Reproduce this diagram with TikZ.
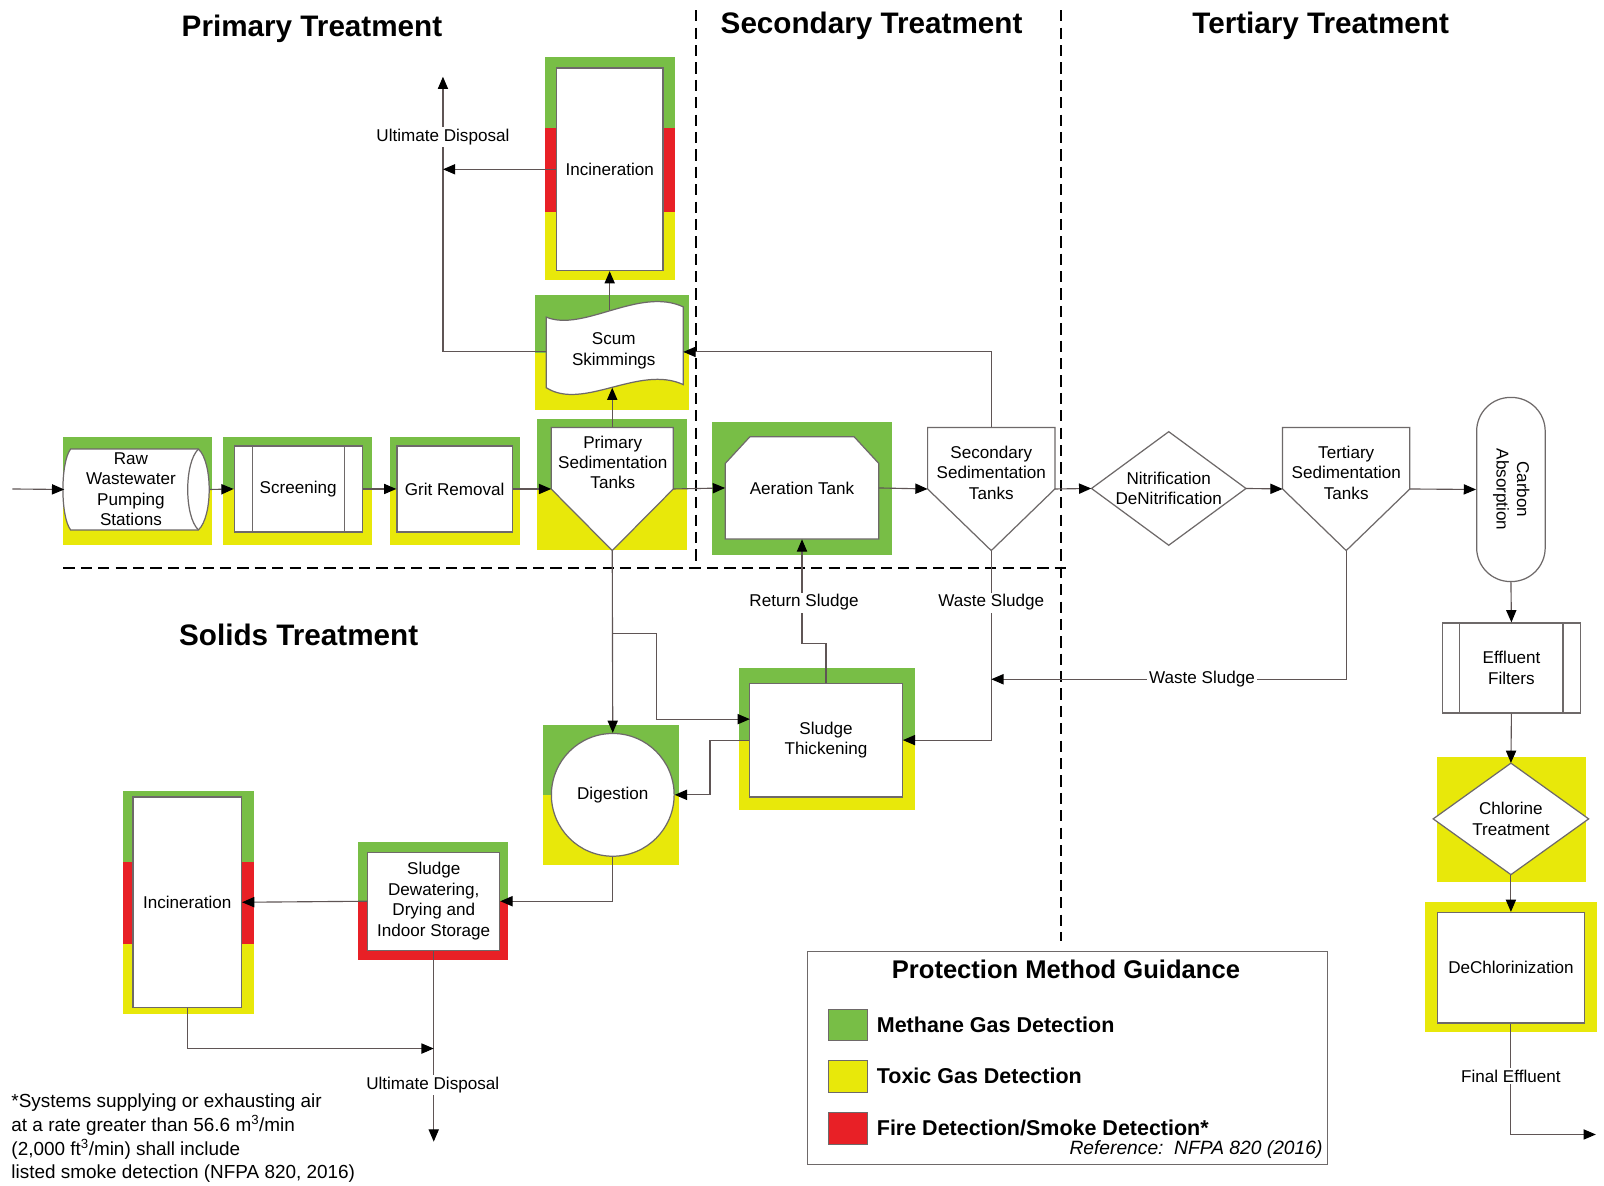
\documentclass[tikz,border=0pt]{standalone}
\usepackage{fontspec}
\setmainfont{Liberation Sans}
\usepackage{graphicx}
\usetikzlibrary{arrows.meta,shapes.geometric,calc}
\definecolor{mgreen}{RGB}{120,190,70}
\definecolor{tyellow}{RGB}{232,232,10}
\definecolor{fred}{RGB}{232,32,38}
\definecolor{lncol}{RGB}{95,85,85}
\definecolor{shpcol}{RGB}{110,105,105}
\newcommand\ndfont{\fontsize{16.7}{20}\selectfont}
\newcommand\ttlfont{\fontsize{29}{34}\selectfont\bfseries}
\newcommand\legfont{\fontsize{21}{25}\selectfont\bfseries}
\tikzset{
  ln/.style={draw=lncol, line width=1.1pt},
  arr/.style={ln, -{Triangle[length=12pt,width=10pt,color=black]}},
  shp/.style={draw=shpcol, line width=1.2pt, fill=white},
  box/.style={shp, rectangle, inner sep=0pt, align=center, font=\ndfont},
  ghost/.style={rectangle, inner sep=0pt, draw=none},
  txt/.style={align=center, font=\ndfont, inner sep=0pt},
  lbl/.style={font=\ndfont, fill=white, inner sep=2pt},
  ttl/.style={font=\ttlfont},
  zone/.style={draw=black, line width=2pt, dash pattern=on 11pt off 6pt},
  swatch/.style={draw=shpcol, line width=0.8pt, minimum width=38, minimum height=31, inner sep=0pt},
  legtxt/.style={anchor=west, font=\legfont, inner sep=0pt},
}
\begin{document}
\begin{tikzpicture}[x=1pt,y=-1pt]
\fill[white] (0,0) rectangle (1568,1159);
\useasboundingbox (0,0) rectangle (1568,1159);

% titles
\node[ttl] (tprim) at (305,28) {Primary Treatment};
\node[ttl] (tsec) at (852,25) {Secondary Treatment};
\node[ttl] (tter) at (1291,25) {Tertiary Treatment};
\node[ttl] (tsol) at (292,621) {Solids Treatment};

% zone boundaries
\draw[zone] (680,10) -- (680,548);
\draw[zone] (1037,10) -- (1037,920);
\draw[zone] (62,555) -- (1045,555);

% ---------- protection backgrounds ----------
\fill[mgreen] (62,427) rectangle (207,478);
\fill[tyellow] (62,478) rectangle (207,533);
\fill[mgreen] (218,427) rectangle (364,478);
\fill[tyellow] (218,478) rectangle (364,533);
\fill[mgreen] (381,427) rectangle (508,478);
\fill[tyellow] (381,478) rectangle (508,533);
\fill[mgreen] (525,410) rectangle (672,478);
\fill[tyellow] (525,478) rectangle (672,538);
\fill[mgreen] (523,288) rectangle (674,345);
\fill[tyellow] (523,345) rectangle (674,401);
\fill[mgreen] (533,56) rectangle (660,125);
\fill[fred] (533,125) rectangle (660,207);
\fill[tyellow] (533,207) rectangle (660,274);
\fill[mgreen] (696,413) rectangle (872,543);
\fill[tyellow] (1405,740) rectangle (1550,862);
\fill[tyellow] (1393,882) rectangle (1561,1009);
\fill[mgreen] (722,653) rectangle (894,723);
\fill[tyellow] (722,723) rectangle (894,792);
\fill[mgreen] (531,709) rectangle (664,777);
\fill[tyellow] (531,777) rectangle (664,846);
\fill[mgreen] (350,823) rectangle (497,881);
\fill[fred] (350,881) rectangle (497,938);
\fill[mgreen] (120,773) rectangle (248,843);
\fill[fred] (120,843) rectangle (248,923);
\fill[tyellow] (120,923) rectangle (248,991);

% ---------- process shapes ----------
% Raw wastewater pumping stations (horizontal cylinder)
\draw[shp] (69,439) -- (194,439) .. controls (208,452) and (208,505) .. (194,518)
  -- (69,518) .. controls (59,505) and (59,452) .. (69,439) -- cycle;
\draw[shp, fill=none] (194,439) .. controls (180,452) and (180,505) .. (194,518);
\node[ghost, minimum width=142, minimum height=79] (raw) at (134,478.5) {};
\node[txt] (rawt) at (128,478) {Raw\\Wastewater\\Pumping\\Stations};

% Screening
\node[box, minimum width=125, minimum height=84] (scr) at (291.5,478) {Screening};
\draw[shp] (247,436) -- (247,520) (337,436) -- (337,520);

% Grit removal
\node[box, minimum width=113, minimum height=84] (grit) at (444.5,478) {Grit Removal};

% Primary sedimentation tanks
\node[ghost, minimum width=119, minimum height=120] (psed) at (598.5,478) {};
\draw[shp] (psed.north west) -- (psed.north east) -- (psed.east) -- (psed.south) -- (psed.west) -- cycle;
\node[txt] (psedt) at (599,452) {Primary\\Sedimentation\\Tanks};

% Scum skimmings (tape)
\draw[shp] (534,310) .. controls (570,325) and (625,280) .. (668,300) -- (668,376)
  .. controls (625,356) and (570,402) .. (534,379) -- cycle;
\node[txt] (scum) at (600,343) {Scum\\Skimmings};
\coordinate (scumB) at (598.5,379);
\coordinate (scumT) at (596,303);
\coordinate (scumL) at (534,344);
\coordinate (scumR) at (668,344);

% Incineration (primary)
\node[box, minimum width=104, minimum height=198] (inc1) at (596,165.5) {Incineration};

% Aeration tank
\draw[shp] (709,453) -- (733,427) -- (835,427) -- (859,453) -- (859,527) -- (709,527) -- cycle;
\node[txt, minimum width=150, minimum height=100] (aer) at (784,477) {Aeration Tank};

% Secondary sedimentation tanks
\node[ghost, minimum width=124, minimum height=120] (ssed) at (969,478) {};
\draw[shp] (ssed.north west) -- (ssed.north east) -- (ssed.east) -- (ssed.south) -- (ssed.west) -- cycle;
\node[txt] (ssedt) at (969,462) {Secondary\\Sedimentation\\Tanks};

% Nitrification / DeNitrification
\draw[shp] (1067,477.5) -- (1142.5,422) -- (1218,477.5) -- (1142.5,533) -- cycle;
\node[txt, minimum width=151, minimum height=111] (nit) at (1142.5,477.5) {Nitrification\\DeNitrification};

% Tertiary sedimentation tanks
\node[ghost, minimum width=124, minimum height=120] (tsed) at (1316,478) {};
\draw[shp] (tsed.north west) -- (tsed.north east) -- (tsed.east) -- (tsed.south) -- (tsed.west) -- cycle;
\node[txt] (tsedt) at (1316,462) {Tertiary\\Sedimentation\\Tanks};

% Carbon absorption
\node[shp, rectangle, rounded corners=33pt, minimum width=67, minimum height=180, inner sep=0pt, font=\ndfont]
  (carb) at (1477,478.5) {\rotatebox{-90}{\begin{tabular}{@{}c@{}}Carbon\\Absorption\end{tabular}}};

% Effluent filters
\node[box, minimum width=135, minimum height=88] (eff) at (1477.5,653) {Effluent\\Filters};
\draw[shp] (1427,609) -- (1427,697) (1528,609) -- (1528,697);

% Chlorine treatment
\draw[shp] (1401,800.5) -- (1477,746) -- (1553,800.5) -- (1477,855) -- cycle;
\node[txt, minimum width=152, minimum height=109] (chl) at (1477,800.5) {Chlorine\\Treatment};

% DeChlorinization
\node[box, minimum width=144, minimum height=108] (dech) at (1477,946) {DeChlorinization};

% Sludge thickening
\node[box, minimum width=149, minimum height=111] (thk) at (807.5,723.5) {Sludge\\Thickening};

% Digestion
\node[shp, circle, minimum size=120, inner sep=0pt, font=\ndfont] (dig) at (599,777) {Digestion};

% Sludge dewatering
\node[box, minimum width=129, minimum height=96] (dew) at (424,881) {Sludge\\Dewatering,\\Drying and\\Indoor Storage};

% Incineration (solids)
\node[box, minimum width=106, minimum height=206] (inc2) at (183,882) {Incineration};

% ---------- connectors ----------
\coordinate (in0) at (12,478);
\draw[arr] (in0) -- (raw.west);
\draw[arr] (raw.east) -- (scr.west);
\draw[arr] (scr.east) -- (grit.west);
\draw[arr] (grit.east) -- (psed.west);
\draw[arr] (psed.east) -- (aer.west);
\draw[arr] (aer.east) -- (ssed.west);
\draw[arr] (ssed.east) -- (nit.west);
\draw[arr] (nit.east) -- (tsed.west);
\draw[arr] (tsed.east) -- (carb.west);
\draw[arr] (carb.south) -- (eff.north);
\draw[arr] (eff.south) -- (chl.north);
\draw[arr] (chl.south) -- (dech.north);
\coordinate (out) at (1560,1109);
\draw[arr] (dech.south) |- (out);
\node[lbl] (fe) at (1477,1052) {Final Effluent};

% primary: scum and incineration
\draw[arr] (psed.north) -- (scumB);
\draw[arr] (scumT) -- (inc1.south);
\coordinate (ud1) at (433,75);
\draw[arr] (scumL) -| (ud1);
\draw[arr] (inc1.west) -- (inc1.west -| ud1);
\node[lbl] (ud1t) at (433,134) {Ultimate Disposal};

% secondary returns
\draw[arr] (ssed.north) |- (scumR);
\draw[arr] (ssed.south) |- (thk.east);
\node[lbl] (ws1) at (969,589) {Waste Sludge};
\coordinate (ws2end) at (969,664);
\draw[arr] (tsed.south) |- (ws2end);
\node[lbl] (ws2) at (1175,664) {Waste Sludge};
\draw[arr] (thk.north) -- ++(0,-38) -| (aer.south);
\node[lbl] (rs) at (786,589) {Return Sludge};

% solids
\draw[arr] (psed.south) -- (dig.north);
\coordinate (br) at (598.5,619);
\coordinate (thkin) at (733,703);
\draw[arr] (br) -- (642,619) |- (thkin);
\draw[arr] (thk.west) -- (694,723.5) |- (dig.east);
\draw[arr] (dig.south) |- (dew.east);
\draw[arr] (dew.west) -- (inc2.east);
\coordinate (ud2) at (424,1116);
\draw[arr] (dew.south) -- (ud2);
\coordinate (ud2j) at (424,1025);
\draw[arr] (inc2.south) |- (ud2j);
\node[lbl] (ud2t) at (423,1061) {Ultimate Disposal};

% ---------- legend ----------
\node[draw=shpcol, line width=1pt, minimum width=509, minimum height=208, inner sep=0pt] (leg) at (1043.5,1034) {};
\node[font=\fontsize{25}{30}\selectfont\bfseries, inner sep=0pt] (legt) at (1042,948) {Protection Method Guidance};
\node[swatch, fill=mgreen] (sw1) at (829,1002) {};
\node[swatch, fill=tyellow] (sw2) at (829,1052) {};
\node[swatch, fill=fred] (sw3) at (829,1103) {};
\node[legtxt] (lg1) at (857,1002) {Methane Gas Detection};
\node[legtxt] (lg2) at (857,1052) {Toxic Gas Detection};
\node[legtxt] (lg3) at (857,1103) {Fire Detection/Smoke Detection*};
\node[anchor=east, font=\fontsize{18.8}{22}\selectfont\itshape, inner sep=0pt] (ref) at (1293,1124) {Reference:\ \ NFPA 820 (2016)};

% footnote
\node[anchor=north west, align=left, font=\fontsize{18.5}{23.3}\selectfont, inner sep=0pt] (fn) at (11,1069)
  {*Systems supplying or exhausting air\\
   at a rate greater than 56.6 m\textsuperscript{3}/min\\
   (2,000 ft\textsuperscript{3}/min) shall include\\
   listed smoke detection (NFPA 820, 2016)};
\end{tikzpicture}
\end{document}
